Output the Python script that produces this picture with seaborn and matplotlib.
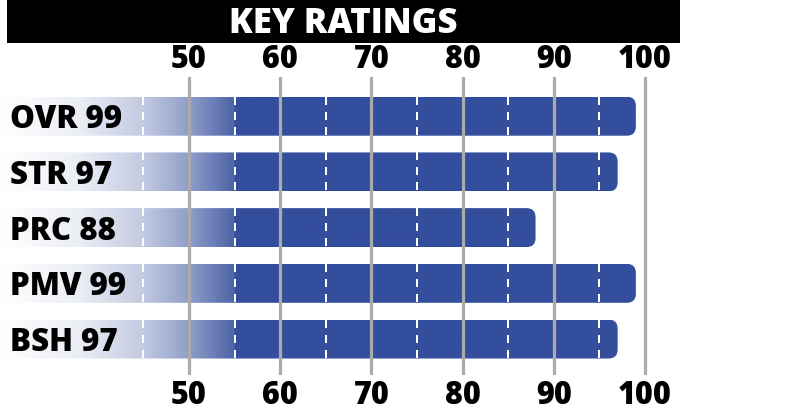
import matplotlib.pyplot as plt
import numpy as np
import pandas as pd
import seaborn as sns
from matplotlib.colors import to_rgb
from matplotlib.patches import FancyBboxPatch, Rectangle

# ratings on the card
stats = ["OVR", "STR", "PRC", "PMV", "BSH"]
ratings = [99, 97, 88, 99, 97]
grid_ticks = [50, 60, 70, 80, 90, 100]
dash_ticks = [45, 55, 65, 75, 85, 95]
title = "KEY RATINGS"

blue = "#344e9c"
grey = "#ababab"

# axis ranges (the axes spans the full width of the figure)
x_min, x_max = 29.28, 115.35
y_top, y_bottom = -0.704, 4.646

# faded left part of every bar: (value, share of the bar colour)
fade_end = 55
fade_x = [29.3, 38, 45, 50, 55]
fade_f = [0.0, 0.1, 0.3, 0.55, 0.88]

sns.set_theme(style="white")
plt.rcParams["font.family"] = ["Open Sans", "DejaVu Sans"]
plt.rcParams["font.weight"] = "heavy"

df = pd.DataFrame({
    "stat": [f"{s} {r}" for s, r in zip(stats, ratings)],
    "rating": ratings,
})

fig = plt.figure(figsize=(7.85, 4.15), dpi=100)
ax = fig.add_axes([0, 1 - 375 / 415, 1, 298 / 415])
sns.barplot(data=df, x="rating", y="stat", color=blue, saturation=1,
            width=0.7, ax=ax)

# repaint each bar as a faded image clipped to a box with a rounded end
left = x_min - 1.3
rgb = np.array(to_rgb(blue))

for bar in list(ax.patches):
    y, h, w = bar.get_y(), bar.get_height(), bar.get_width()
    bar.remove()
    box = FancyBboxPatch((left, y), w - left, h,
                         boxstyle="round,pad=0,rounding_size=0.99",
                         mutation_aspect=0.164, fc="none", ec="none")
    ax.add_patch(box)
    xs = np.linspace(left, w, 1200)
    shade = np.where(xs >= fade_end, 1.0, np.interp(xs, fade_x, fade_f))
    img = 1 - shade[:, None] * (1 - rgb)
    im = ax.imshow(img[None], extent=(left, w, y + h, y), aspect="auto",
                   interpolation="bilinear", zorder=1.1)
    im.set_clip_path(box)
    ax.vlines(dash_ticks, y, y + h, colors="white", lw=1.44,
              linestyles=(0, (4, 3.5)), zorder=2)

ax.set_xlim(x_min, x_max)
ax.set_ylim(y_bottom, y_top)
ax.set_xticks(grid_ticks)
ax.set_xlabel("")
ax.set_ylabel("")
ax.grid(axis="x", color=grey, lw=2.3)
ax.grid(axis="y", visible=False)
ax.set_axisbelow(False)
for s in ax.spines.values():
    s.set_visible(False)

ax.tick_params(axis="x", top=True, labeltop=True, bottom=True,
               labelbottom=True, length=0, pad=1, labelsize=22,
               labelcolor="black")
ax.tick_params(axis="y", length=0, pad=-7.2, labelsize=22.5,
               labelcolor="black")
for lab in ax.get_yticklabels():
    lab.set_ha("left")
# bottom numbers sit a little lower than the top ones
for t in ax.xaxis.get_major_ticks():
    t.label1.set_y(-4 / 298)

# title band
fig.add_artist(Rectangle((7 / 785, 1 - 43 / 415), 673 / 785, 43 / 415,
                         transform=fig.transFigure, fc="black", ec="none"))
fig.text(343.5 / 785, 1 - 33 / 415, title, ha="center", va="baseline",
         color="white", fontsize=25, fontweight="heavy")

fig.savefig("out.png", dpi=100)
